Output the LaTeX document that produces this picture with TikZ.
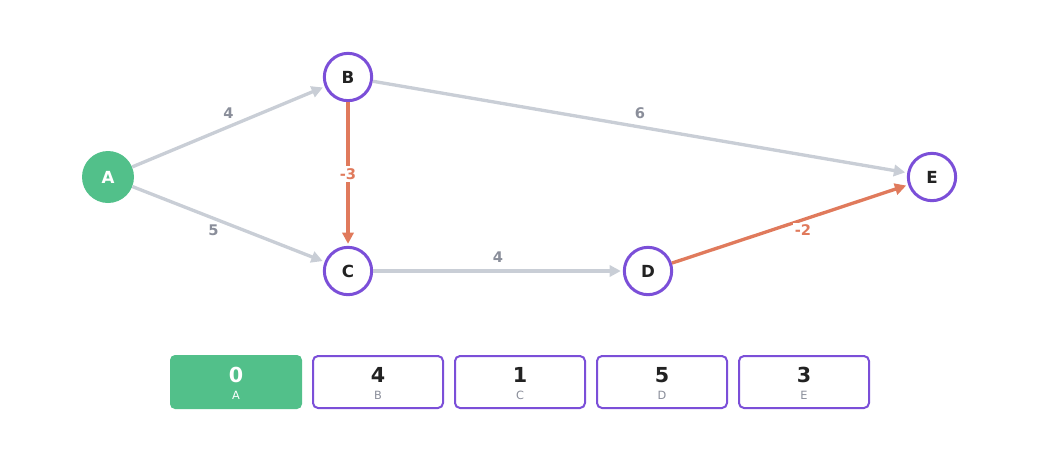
\documentclass[tikz,border=0pt]{standalone}
\usepackage{fontspec}
\setmainfont{DejaVu Sans}
\usetikzlibrary{arrows.meta}
\definecolor{vgreen}{HTML}{52C08A}
\definecolor{vpurple}{HTML}{7B4FD8}
\definecolor{vgray}{HTML}{C9CED6}
\definecolor{vlabel}{HTML}{8A8E9A}
\definecolor{vorange}{HTML}{E07A5C}
\definecolor{vblack}{HTML}{222222}
\begin{document}
\begin{tikzpicture}[x=0.75pt,y=-0.75pt,
	vertex/.style={circle,draw=vpurple,line width=2.25pt,fill=white,minimum size=35.5pt,inner sep=0pt,text=vblack,font=\bfseries\fontsize{12.5}{12.5}\selectfont},
	source/.style={circle,fill=vgreen,minimum size=39pt,inner sep=0pt,text=white,font=\bfseries\fontsize{12.5}{12.5}\selectfont},
	edge/.style={draw=vgray,line width=2.5pt,shorten >=1.5pt,-{Triangle[length=8.5pt,width=8.5pt]}},
	relax/.style={edge,draw=vorange},
	wlabel/.style={fill=white,inner sep=1.5pt,text=vlabel,font=\bfseries\fontsize{11}{11}\selectfont},
	rlabel/.style={wlabel,text=vorange},
	distbox/.style={rectangle,rounded corners=3.75pt,draw=vpurple,line width=1.5pt,fill=white,minimum width=97.5pt,minimum height=39pt,inner sep=0pt},
	startbox/.style={distbox,draw=none,fill=vgreen,minimum width=99pt,minimum height=40.5pt},
	distnum/.style={inner sep=0pt,text=vblack,font=\bfseries\fontsize{15.5}{15.5}\selectfont},
	distname/.style={inner sep=0pt,text=vlabel,font=\fontsize{8.5}{8.5}\selectfont}]
	\useasboundingbox (0,0) rectangle (1040,451);

	% vertices
	\node[source] (A) at (108,177) {A};
	\node[vertex] (B) at (348,77) {B};
	\node[vertex] (C) at (348,271) {C};
	\node[vertex] (D) at (648,271) {D};
	\node[vertex] (E) at (932,177) {E};

	% edges
	\draw[edge] (A) -- node[wlabel,midway,shift={(0,-14)}] {4} (B);
	\draw[edge] (A) -- node[wlabel,midway,shift={(-15,6)}] {5} (C);
	\draw[edge] (B) -- node[wlabel,midway,shift={(0,-14)}] {6} (E);
	\draw[edge] (C) -- node[wlabel,midway,shift={(0,-14)}] {4} (D);
	\draw[relax] (B) -- node[rlabel,midway] {-3} (C);
	\draw[relax] (D) -- node[rlabel,midway,shift={(13,6)}] {-2} (E);

	% distance table
	\node[startbox] (dA) at (236,382) {};
	\node[distnum,text=white] at (236,375) {0};
	\node[distname,text=white] at (236,395) {A};
	\foreach \n/\v/\x in {B/4/378,C/1/520,D/5/662,E/3/804}{
		\node[distbox] (d\n) at (\x,382) {};
		\node[distnum] at (\x,375) {\v};
		\node[distname] at (\x,395) {\n};
	}
\end{tikzpicture}
\end{document}
